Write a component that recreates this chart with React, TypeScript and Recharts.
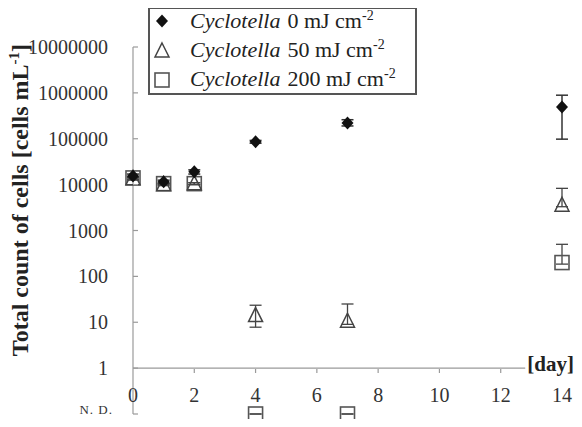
import React from 'react';
import { ScatterChart, Scatter, XAxis, YAxis, ErrorBar, ReferenceLine, Legend } from 'recharts';

// sampling days
const days = [0, 1, 2, 4, 7, 14];

// Cyclotella 0 mJ cm-2
const dose0 = [15500, 11500, 19000, 86000, 220000, 490000];
const dose0Low = [14000, 10500, 17000, 80000, 190000, 98000];
const dose0High = [17000, 12500, 21000, 92000, 260000, 890000];

// Cyclotella 50 mJ cm-2
const dose50 = [13500, 10000, 10500, 14, 10.5, 3550];
const dose50Low = [12500, 9500, 10000, 7.8, 9, 3300];
const dose50High = [14500, 10500, 11000, 23.5, 25, 8300];

// Cyclotella 200 mJ cm-2 (N.D. plotted on the N.D. row)
const ND = 0.1;
const dose200 = [14000, 10500, 10500, ND, ND, 200];
const dose200Low = [13000, 10000, 10000, ND, ND, 185];
const dose200High = [15000, 11000, 11000, ND, ND, 500];

const yTicks = [ND, 1, 10, 100, 1000, 10000, 100000, 1000000, 10000000];
const xTicks = [0, 2, 4, 6, 8, 10, 12, 14];
const legendDoses = ['0', '50', '200'];

const FONT = 'Liberation Serif, DejaVu Serif, serif';
const AXIS = '#9a9a9a';
const INK = '#333';

const build = (vals: number[], low: number[], high: number[]) =>
  days.map((d, i) => ({ x: d, y: vals[i], err: [vals[i] - low[i], high[i] - vals[i]] }));

const data0 = build(dose0, dose0Low, dose0High);
const data50 = build(dose50, dose50Low, dose50High);
const data200 = build(dose200, dose200Low, dose200High);

const Diamond = ({ cx, cy }: any) => (
  <path d={`M${cx},${cy - 6.5}L${cx + 6},${cy}L${cx},${cy + 6.5}L${cx - 6},${cy}Z`} fill="#111" />
);
const Triangle = ({ cx, cy }: any) => (
  <path d={`M${cx},${cy - 8}L${cx + 7},${cy + 6}L${cx - 7},${cy + 6}Z`} fill="none" stroke="#444" strokeWidth={1.5} />
);
const Square = ({ cx, cy }: any) => (
  <rect x={cx - 7} y={cy - 7} width={14} height={14} fill="none" stroke="#555" strokeWidth={1.6} />
);

const YTick = ({ x, y, payload }: any) => {
  const v = payload.value;
  return (
    <g>
      <line x1={x} y1={y} x2={x + 5} y2={y} stroke={AXIS} strokeWidth={1.2} />
      {v === ND ? (
        <text x={x - 20} y={y - 5} textAnchor="end" dominantBaseline="central" fontSize={13} letterSpacing={1} fill={INK} style={{ fontFamily: FONT }}>
          N. D.
        </text>
      ) : (
        <text x={x - 25} y={y} textAnchor="end" dominantBaseline="central" fontSize={20} fill={INK} style={{ fontFamily: FONT }}>
          {v}
        </text>
      )}
    </g>
  );
};

const XTick = ({ x, y, payload }: any) => {
  const v = payload.value;
  return (
    <g>
      {v > 0 && v < 14 && <line x1={x} y1={y - 45} x2={x} y2={y - 41} stroke={AXIS} strokeWidth={1.2} />}
      <text x={x} y={y - 19} textAnchor="middle" dominantBaseline="central" fontSize={20} fill={INK} style={{ fontFamily: FONT }}>
        {v}
      </text>
    </g>
  );
};

const YLabel = () => (
  <text transform="rotate(-90, 28, 200)" x={28} y={200} textAnchor="middle" fontSize={24} fontWeight="bold" fill="#222" style={{ fontFamily: FONT }}>
    Total count of cells [cells mL<tspan dy={-9} fontSize={15}>-1</tspan>
    <tspan dy={9}>]</tspan>
  </text>
);

const LegendBox = () => (
  <svg width={270} height={89} style={{ display: 'block' }}>
    <rect x={1} y={1} width={267} height={86} fill="#fff" stroke="#555" strokeWidth={2} />
    {legendDoses.map((d, i) => {
      const cy = 14 + i * 29;
      return (
        <g key={d}>
          {i === 0 && <Diamond cx={14} cy={cy} />}
          {i === 1 && <Triangle cx={14} cy={cy + 1} />}
          {i === 2 && <Square cx={14} cy={cy + 1} />}
          <text x={42} y={cy + 7} fontSize={22} fill="#222" style={{ fontFamily: FONT }}>
            <tspan fontStyle="italic">Cyclotella</tspan>
            <tspan dx={7}>{d} mJ cm</tspan>
            <tspan dy={-8} fontSize={14}>-2</tspan>
          </text>
        </g>
      );
    })}
  </svg>
);

export default function App() {
  return (
    <div style={{ margin: -8, fontFamily: FONT }}>
      <ScatterChart width={582} height={427} margin={{ top: 47, right: 20, bottom: 12, left: 0 }}>
        <XAxis
          type="number"
          dataKey="x"
          domain={[0, 14]}
          ticks={xTicks}
          height={1}
          axisLine={false}
          tickLine={false}
          tickSize={0}
          tickMargin={0}
          tick={<XTick />}
          interval={0}
        />
        <YAxis
          type="number"
          dataKey="y"
          scale="log"
          domain={[ND, 10000000]}
          ticks={yTicks}
          width={133}
          axisLine={{ stroke: AXIS, strokeWidth: 1.2 }}
          tickLine={false}
          tickSize={0}
          tickMargin={0}
          tick={<YTick />}
          interval={0}
          label={<YLabel />}
        />
        <ReferenceLine
          segment={[{ x: 0, y: 1 }, { x: 12.8, y: 1 }]}
          stroke={AXIS}
          strokeWidth={1.2}
          label={{ value: '[day]', position: 'right', offset: 2, fontSize: 21, fontWeight: 'bold', fill: '#222', style: { fontFamily: FONT }, dy: -5 }}
        />
        <Legend
          layout="vertical"
          align="center"
          verticalAlign="middle"
          content={<LegendBox />}
          wrapperStyle={{ left: 148, top: 7, width: 270, height: 89 }}
        />
        <Scatter data={data200} shape={<Square />} isAnimationActive={false}>
          <ErrorBar dataKey="err" direction="y" width={6} stroke="#444" strokeWidth={1.3} />
        </Scatter>
        <Scatter data={data50} shape={<Triangle />} isAnimationActive={false}>
          <ErrorBar dataKey="err" direction="y" width={6} stroke="#444" strokeWidth={1.3} />
        </Scatter>
        <Scatter data={data0} shape={<Diamond />} isAnimationActive={false}>
          <ErrorBar dataKey="err" direction="y" width={6} stroke="#333" strokeWidth={1.5} />
        </Scatter>
      </ScatterChart>
    </div>
  );
}
